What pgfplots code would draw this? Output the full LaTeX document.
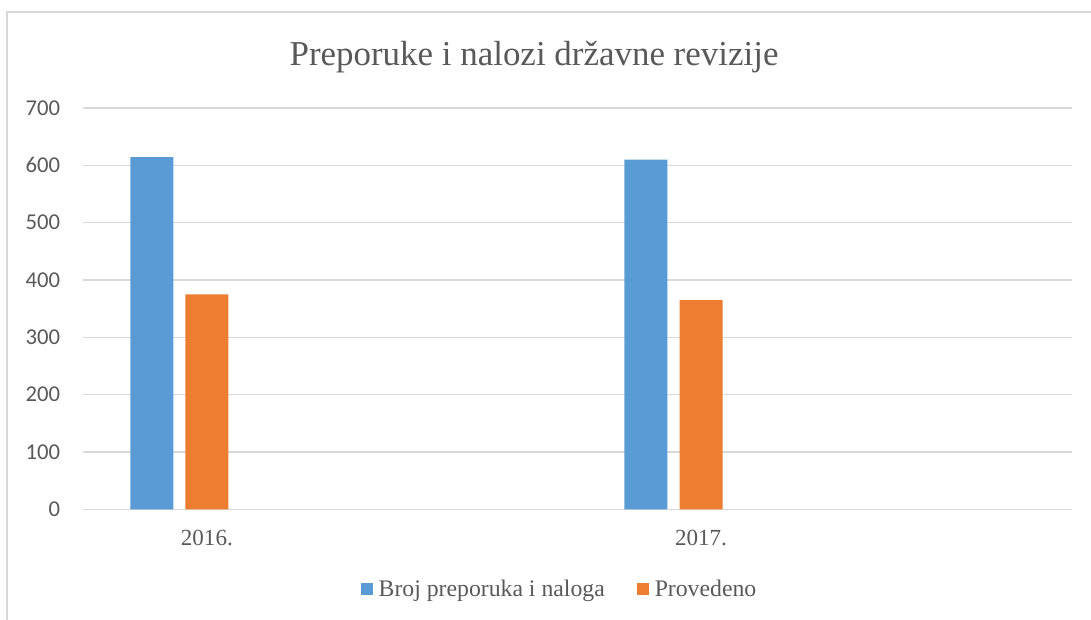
\documentclass[border=0pt]{standalone}
\usepackage{fontspec}
\setmainfont{Liberation Serif}
\newfontfamily\carlito{Carlito}
\usepackage{pgfplots}
\pgfplotsset{compat=1.18}
\definecolor{cblue}{HTML}{5B9BD5}
\definecolor{corange}{HTML}{ED7D31}
\definecolor{cgrid}{HTML}{D9D9D9}
\definecolor{ctext}{HTML}{595959}
\begin{document}
\begin{tikzpicture}
\useasboundingbox (0,0) rectangle (818.25pt,464.25pt);
\draw[cgrid, line width=0.9pt] (5.25pt,-2pt) -- (5.25pt,455.25pt) -- (820pt,455.25pt);
\node[anchor=base, text=ctext, font=\fontsize{26.2}{30}\selectfont, inner sep=0pt] at (400.5pt,414.75pt) {Preporuke i nalozi državne revizije};
\begin{axis}[
  at={(62.5pt,82.3pt)}, anchor=south west,
  scale only axis, width=741.2pt, height=301pt,
  xmin=-0.5, xmax=3.5, ymin=0, ymax=700,
  xtick={0,2}, xticklabels={2016.,2017.},
  ytick={0,100,...,700},
  /pgf/number format/assume math mode=true,
  axis line style={draw=none},
  major tick length=0pt,
  ymajorgrids, grid style={cgrid, line width=1pt},
  yticklabel style={font=\carlito\fontsize{17}{20}\selectfont, text=ctext, anchor=east, inner sep=0pt, xshift=-17.25pt},
  xticklabel style={font=\fontsize{17.3}{20}\selectfont, text=ctext, anchor=base, inner sep=0pt, yshift=-27.5pt},
  legend style={at={(0.4808,-0.1986)}, anchor=center, draw=none, fill=none, inner sep=0pt,
    font=\fontsize{17.8}{20}\selectfont, text=ctext, legend columns=-1,
    nodes={inner sep=0pt},
    /tikz/every odd column/.append style={column sep=4.5pt},
    /tikz/every even column/.append style={column sep=24pt}},
  legend image code/.code={\fill[#1] (0pt,-4.5pt) rectangle (9pt,4.5pt);},
]
\addplot[ybar, bar width=0.174, bar shift=-0.223, fill=cblue, draw=none] coordinates {(0,614) (2,610)};
\addlegendentry{Broj preporuka i naloga}
\addplot[ybar, bar width=0.174, bar shift=0, fill=corange, draw=none] coordinates {(0,375) (2,365)};
\addlegendentry{Provedeno}
\end{axis}
\end{tikzpicture}
\end{document}
